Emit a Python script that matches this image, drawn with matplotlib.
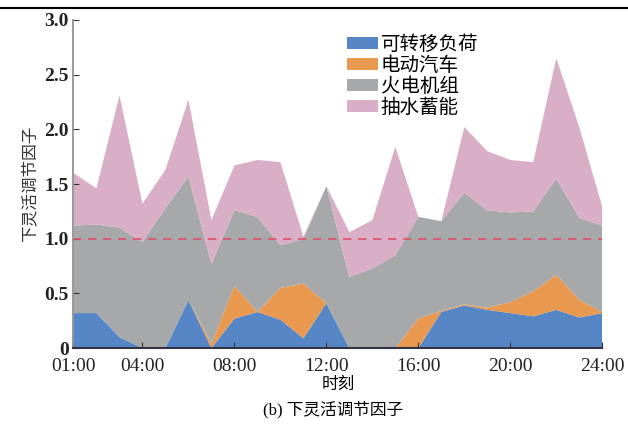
import matplotlib
matplotlib.use("Agg")
import matplotlib.pyplot as plt
from matplotlib.lines import Line2D

plt.rcParams["font.family"] = ["Liberation Serif", "Noto Sans CJK SC", "DejaVu Sans"]

hours = list(range(1, 25))
hour_ticks = [1, 4, 8, 12, 16, 20, 24]
hour_labels = ["01:00", "04:00", "08:00", "12:00", "16:00", "20:00", "24:00"]

series_names = ["可转移负荷", "电动汽车", "火电机组", "抽水蓄能"]
shiftable_load = [0.32, 0.32, 0.10, 0.00, 0.00, 0.44, 0.00, 0.27, 0.33, 0.26, 0.09, 0.41,
                  0.00, 0.00, 0.00, 0.00, 0.33, 0.39, 0.35, 0.32, 0.29, 0.35, 0.28, 0.32]
electric_vehicle = [0.00, 0.00, 0.00, 0.00, 0.00, 0.00, 0.04, 0.30, 0.00, 0.29, 0.50, 0.00,
                    0.00, 0.00, 0.00, 0.27, 0.01, 0.01, 0.02, 0.10, 0.23, 0.32, 0.16, 0.01]
thermal_unit = [0.80, 0.81, 1.00, 0.97, 1.28, 1.13, 0.73, 0.69, 0.87, 0.39, 0.41, 1.07,
                0.65, 0.73, 0.85, 0.93, 0.82, 1.02, 0.89, 0.82, 0.73, 0.88, 0.75, 0.79]
pumped_storage = [0.48, 0.33, 1.21, 0.35, 0.35, 0.70, 0.40, 0.41, 0.52, 0.76, 0.02, 0.00,
                  0.41, 0.44, 0.99, 0.00, 0.00, 0.60, 0.54, 0.48, 0.45, 1.10, 0.83, 0.17]
threshold = 1.0

colors = ["#5786c6", "#e8984f", "#a7a8aa", "#d9afc7"]

fig = plt.figure(figsize=(6.28, 4.24), dpi=100)
ax = fig.add_axes([0.117, 0.179, 0.842, 0.774])

ax.stackplot(hours, shiftable_load, electric_vehicle, thermal_unit, pumped_storage,
             labels=series_names, colors=colors, linewidth=0)
ax.axhline(threshold, color="#e0506a", linestyle=(0, (5, 4)), linewidth=1.2)

ax.set_xlim(1, 24)
ax.set_ylim(0, 3)
ax.set_xticks(hour_ticks)
ax.set_xticklabels(hour_labels)
ax.set_yticks([0, 0.5, 1.0, 1.5, 2.0, 2.5, 3.0])
ax.set_yticklabels(["0", "0.5", "1.0", "1.5", "2.0", "2.5", "3.0"])
ax.tick_params(direction="in", labelsize=14, length=4, colors="#333333", labelcolor="#222222")
ax.tick_params(axis="x", pad=7)
for lab in ax.get_yticklabels():
    lab.set_fontweight("bold")

for side in ["top", "right"]:
    ax.spines[side].set_visible(False)
ax.spines["left"].set_color("#8a8a8a")
ax.spines["bottom"].set_color("#333344")
ax.spines["left"].set_linewidth(1.2)
ax.spines["bottom"].set_linewidth(1.5)

ax.set_xlabel("时刻", fontsize=12, labelpad=1, family=["Noto Sans CJK SC"])
ax.set_ylabel("下灵活调节因子", fontsize=12, labelpad=4, family=["Noto Sans CJK SC"], color="#333333")
fig.text(0.53, 0.033, "(b) 下灵活调节因子", ha="center", va="center", fontsize=12)

ax.legend(loc="upper left", bbox_to_anchor=(0.517, 0.958), frameon=False,
          handlelength=1.6, handleheight=0.62, handletextpad=0.15, labelspacing=0.0,
          borderaxespad=0, borderpad=0, prop={"family": ["Noto Sans CJK SC"], "size": 14})

fig.add_artist(Line2D([0, 1], [0.981, 0.981], transform=fig.transFigure, color="black", linewidth=1.5))

fig.savefig("out.png", dpi=100)
